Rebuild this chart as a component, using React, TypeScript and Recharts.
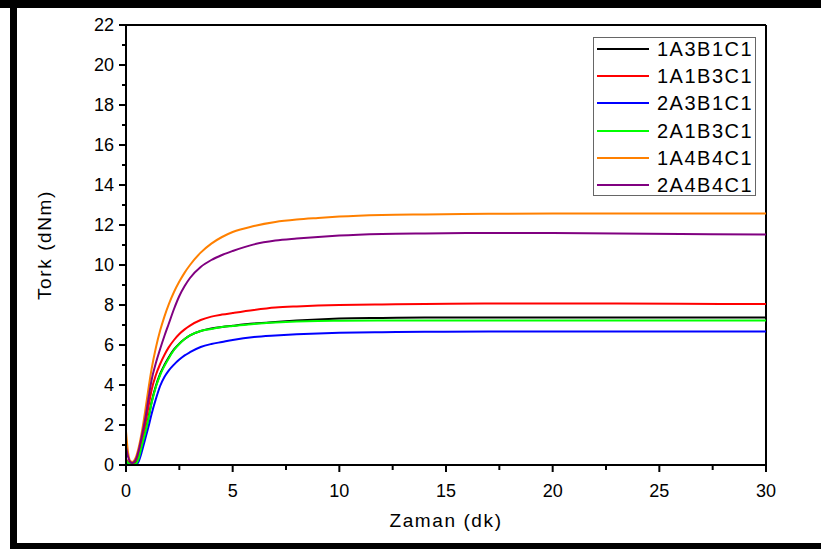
import React from 'react';
import { LineChart, Line, XAxis, YAxis, ReferenceLine } from 'recharts';

const times = [0, 0.1, 0.2, 0.3, 0.45, 0.6, 0.75, 0.9, 1.05, 1.2, 1.4, 1.6, 1.8, 2.0, 2.25, 2.5, 2.75, 3, 3.5, 4, 4.5, 5, 6, 7, 8, 9, 10, 12, 14, 17, 20, 23, 26, 30];

const s1A3B1C1 = [0.2, 0.1, 0.05, 0.03, 0.08, 0.4, 1.05, 1.65, 2.35, 3.15, 3.95, 4.55, 5.0, 5.38, 5.78, 6.07, 6.3, 6.48, 6.7, 6.82, 6.9, 6.96, 7.07, 7.15, 7.22, 7.28, 7.32, 7.35, 7.37, 7.38, 7.38, 7.38, 7.38, 7.38];
const s1A1B3C1 = [0.3, 0.15, 0.1, 0.08, 0.2, 0.6, 1.3, 2.0, 2.9, 3.75, 4.5, 5.05, 5.5, 5.88, 6.25, 6.55, 6.78, 6.97, 7.25, 7.42, 7.52, 7.6, 7.75, 7.87, 7.93, 7.97, 8.0, 8.03, 8.05, 8.08, 8.08, 8.07, 8.06, 8.05];
const s2A3B1C1 = [0.15, 0.05, 0.02, 0.0, 0.0, 0.2, 0.7, 1.3, 1.9, 2.55, 3.3, 3.95, 4.4, 4.72, 5.02, 5.27, 5.48, 5.64, 5.9, 6.05, 6.15, 6.25, 6.4, 6.48, 6.54, 6.58, 6.61, 6.64, 6.66, 6.67, 6.67, 6.67, 6.67, 6.67];
const s2A1B3C1 = [0.25, 0.1, 0.05, 0.02, 0.05, 0.35, 1.0, 1.6, 2.3, 3.1, 3.9, 4.5, 4.95, 5.33, 5.75, 6.05, 6.3, 6.48, 6.7, 6.8, 6.9, 6.95, 7.05, 7.12, 7.17, 7.2, 7.21, 7.22, 7.23, 7.23, 7.23, 7.23, 7.23, 7.23];
const s1A4B4C1 = [1.7, 0.6, 0.2, 0.15, 0.35, 0.9, 1.7, 2.7, 3.8, 4.8, 5.86, 6.72, 7.42, 8.02, 8.65, 9.17, 9.62, 10.0, 10.62, 11.07, 11.4, 11.65, 11.95, 12.15, 12.27, 12.35, 12.42, 12.5, 12.53, 12.56, 12.57, 12.58, 12.58, 12.58];
const s2A4B4C1 = [0.9, 0.4, 0.15, 0.1, 0.25, 0.75, 1.5, 2.3, 3.3, 4.25, 5.1, 5.8, 6.45, 7.05, 7.8, 8.45, 8.95, 9.35, 9.9, 10.25, 10.5, 10.7, 11.03, 11.22, 11.32, 11.4, 11.47, 11.55, 11.58, 11.6, 11.6, 11.58, 11.55, 11.52];

const seriesNames = ['1A3B1C1', '1A1B3C1', '2A3B1C1', '2A1B3C1', '1A4B4C1', '2A4B4C1'];
const seriesValues = [s1A3B1C1, s1A1B3C1, s2A3B1C1, s2A1B3C1, s1A4B4C1, s2A4B4C1];
const seriesColors = ['#000000', '#ff0000', '#0000ff', '#00ff00', '#ff8000', '#800080'];

const xTicks = [0, 2.5, 5, 7.5, 10, 12.5, 15, 17.5, 20, 22.5, 25, 27.5, 30];
const yTicks = Array.from({ length: 23 }, (_, i) => i);

const data = times.map((t, i) => {
  const row: any = { t };
  seriesNames.forEach((n, k) => { row[n] = seriesValues[k][i]; });
  return row;
});

const FONT = '"Liberation Sans", Arial, sans-serif';

const XTick = (props: any) => {
  const { x, y, payload } = props;
  const major = payload.value % 5 === 0;
  return (
    <g>
      <line x1={x} x2={x} y1={y} y2={y + (major ? 7 : 5)} stroke="#000" strokeWidth={2} />
      {major && (
        <text x={x} y={y + 32} textAnchor="middle" fontSize={18} fill="#000" fontFamily={FONT}>
          {payload.value}
        </text>
      )}
    </g>
  );
};

const YTick = (props: any) => {
  const { x, y, payload } = props;
  const major = payload.value % 2 === 0;
  return (
    <g>
      <line x1={x} x2={x - (major ? 7 : 4)} y1={y} y2={y} stroke="#000" strokeWidth={2} />
      {major && (
        <text x={x - 12} y={y + 6} textAnchor="end" fontSize={18} fill="#000" fontFamily={FONT}>
          {payload.value}
        </text>
      )}
    </g>
  );
};

const LegendBox = () => (
  <div style={{ position: 'absolute', left: 593, top: 37, width: 161, height: 157, border: '1.5px solid #666', background: '#fff', fontFamily: FONT }}>
    {seriesNames.map((n, i) => (
      <div key={n} style={{ position: 'absolute', left: 0, top: 11 + i * 27.2 - 13, height: 26, width: 161, display: 'flex', alignItems: 'center' }}>
        <div style={{ marginLeft: 3, width: 52, height: 2, background: seriesColors[i] }} />
        <span style={{ marginLeft: 8, fontSize: 20, letterSpacing: 1.5, color: '#000', lineHeight: '26px' }}>{n}</span>
      </div>
    ))}
  </div>
);

export default function App() {
  return (
    <div style={{ position: 'absolute', left: 0, top: 0, width: 821, height: 549, background: '#fff', overflow: 'hidden' }}>
      <LineChart width={821} height={549} data={data} margin={{ top: 25, right: 55, bottom: 54, left: 66 }}>
        <XAxis dataKey="t" type="number" domain={[0, 30]} ticks={xTicks} interval={0} height={30} tickSize={0} tickMargin={0}
          tick={<XTick />} axisLine={{ stroke: '#000', strokeWidth: 2 }} tickLine={false} allowDataOverflow />
        <YAxis type="number" domain={[0, 22]} ticks={yTicks} interval={0} width={60} tickSize={0} tickMargin={0}
          tick={<YTick />} axisLine={{ stroke: '#000', strokeWidth: 2 }} tickLine={false} allowDataOverflow />
        <ReferenceLine y={22} stroke="#000" strokeWidth={2} />
        <ReferenceLine x={30} stroke="#000" strokeWidth={2} />
        {seriesNames.map((n, i) => (
          <Line key={n} type="monotone" dataKey={n} stroke={seriesColors[i]} strokeWidth={2} dot={false} isAnimationActive={false} />
        ))}
      </LineChart>
      <LegendBox />
      <div style={{ position: 'absolute', left: 446, top: 521, transform: 'translate(-50%, -50%)', fontFamily: FONT, fontSize: 19, letterSpacing: 1.6, color: '#000', whiteSpace: 'nowrap' }}>Zaman (dk)</div>
      <div style={{ position: 'absolute', left: 45, top: 245, transform: 'translate(-50%, -50%) rotate(-90deg)', fontFamily: FONT, fontSize: 19, letterSpacing: 1.6, color: '#000', whiteSpace: 'nowrap' }}>Tork (dNm)</div>
      <div style={{ position: 'absolute', left: 0, top: 0, width: 821, height: 8, background: '#000' }} />
      <div style={{ position: 'absolute', left: 10, top: 0, width: 7, height: 549, background: '#000' }} />
      <div style={{ position: 'absolute', left: 10, top: 543, width: 811, height: 6, background: '#000' }} />
    </div>
  );
}
